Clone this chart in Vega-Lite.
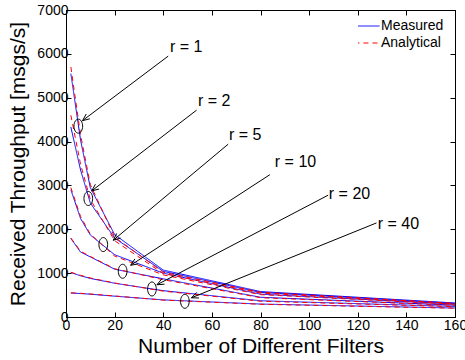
{
  "$schema": "https://vega.github.io/schema/vega-lite/v6.json",
  "width": 389,
  "height": 307,
  "autosize": {"type": "none"},
  "padding": {"left": 66, "top": 10, "right": 10, "bottom": 43},
  "background": "white",
  "config": {
    "font": "Liberation Sans",
    "view": {"stroke": "black", "strokeWidth": 1},
    "axis": {
      "domainColor": "black",
      "tickColor": "black",
      "labelColor": "black",
      "titleColor": "black",
      "labelFont": "Liberation Sans",
      "titleFont": "Liberation Sans",
      "labelFontSize": 14,
      "titleFontSize": 21,
      "titleFontWeight": "normal",
      "grid": false,
      "tickSize": -5,
      "domainWidth": 1,
      "tickWidth": 1,
      "format": "d"
    },
    "legend": {
      "labelFont": "Liberation Sans",
      "labelFontSize": 14,
      "labelColor": "black",
      "orient": "none",
      "legendX": 292,
      "legendY": 7.5,
      "padding": 0,
      "rowPadding": 0,
      "clipHeight": 17,
      "symbolType": "M-1.5,0L1.5,0",
      "symbolSize": 280,
      "symbolStrokeWidth": 1,
      "labelOffset": 5
    }
  },
  "datasets": {
    "curves": [
      {"r": 1, "type": "Measured", "x": 2, "y": 5550},
      {"r": 1, "type": "Measured", "x": 6, "y": 4030},
      {"r": 1, "type": "Measured", "x": 10, "y": 2950},
      {"r": 1, "type": "Measured", "x": 20, "y": 1880},
      {"r": 1, "type": "Measured", "x": 40, "y": 1070},
      {"r": 1, "type": "Measured", "x": 80, "y": 580},
      {"r": 1, "type": "Measured", "x": 160, "y": 320},
      {"r": 2, "type": "Measured", "x": 2, "y": 4330},
      {"r": 2, "type": "Measured", "x": 6, "y": 3350},
      {"r": 2, "type": "Measured", "x": 10, "y": 2600},
      {"r": 2, "type": "Measured", "x": 20, "y": 1800},
      {"r": 2, "type": "Measured", "x": 40, "y": 1040},
      {"r": 2, "type": "Measured", "x": 80, "y": 560},
      {"r": 2, "type": "Measured", "x": 160, "y": 310},
      {"r": 5, "type": "Measured", "x": 2, "y": 2900},
      {"r": 5, "type": "Measured", "x": 6, "y": 2245},
      {"r": 5, "type": "Measured", "x": 10, "y": 1870},
      {"r": 5, "type": "Measured", "x": 20, "y": 1420},
      {"r": 5, "type": "Measured", "x": 40, "y": 1000},
      {"r": 5, "type": "Measured", "x": 80, "y": 520},
      {"r": 5, "type": "Measured", "x": 160, "y": 295},
      {"r": 10, "type": "Measured", "x": 2, "y": 1790},
      {"r": 10, "type": "Measured", "x": 6, "y": 1480},
      {"r": 10, "type": "Measured", "x": 10, "y": 1370},
      {"r": 10, "type": "Measured", "x": 20, "y": 1090},
      {"r": 10, "type": "Measured", "x": 40, "y": 870},
      {"r": 10, "type": "Measured", "x": 80, "y": 450},
      {"r": 10, "type": "Measured", "x": 160, "y": 270},
      {"r": 20, "type": "Measured", "x": 2, "y": 1013},
      {"r": 20, "type": "Measured", "x": 6, "y": 940},
      {"r": 20, "type": "Measured", "x": 10, "y": 880},
      {"r": 20, "type": "Measured", "x": 20, "y": 770},
      {"r": 20, "type": "Measured", "x": 40, "y": 600},
      {"r": 20, "type": "Measured", "x": 80, "y": 370},
      {"r": 20, "type": "Measured", "x": 160, "y": 240},
      {"r": 40, "type": "Measured", "x": 2, "y": 548},
      {"r": 40, "type": "Measured", "x": 6, "y": 535},
      {"r": 40, "type": "Measured", "x": 10, "y": 520},
      {"r": 40, "type": "Measured", "x": 20, "y": 475},
      {"r": 40, "type": "Measured", "x": 40, "y": 390},
      {"r": 40, "type": "Measured", "x": 80, "y": 295},
      {"r": 40, "type": "Measured", "x": 160, "y": 205},
      {"r": 1, "type": "Analytical", "x": 2, "y": 5700},
      {"r": 1, "type": "Analytical", "x": 6, "y": 4150},
      {"r": 1, "type": "Analytical", "x": 10, "y": 3020},
      {"r": 1, "type": "Analytical", "x": 20, "y": 1820},
      {"r": 1, "type": "Analytical", "x": 40, "y": 1020},
      {"r": 1, "type": "Analytical", "x": 80, "y": 565},
      {"r": 1, "type": "Analytical", "x": 160, "y": 310},
      {"r": 2, "type": "Analytical", "x": 2, "y": 4600},
      {"r": 2, "type": "Analytical", "x": 6, "y": 3480},
      {"r": 2, "type": "Analytical", "x": 10, "y": 2680},
      {"r": 2, "type": "Analytical", "x": 20, "y": 1740},
      {"r": 2, "type": "Analytical", "x": 40, "y": 990},
      {"r": 2, "type": "Analytical", "x": 80, "y": 545},
      {"r": 2, "type": "Analytical", "x": 160, "y": 305},
      {"r": 5, "type": "Analytical", "x": 2, "y": 2950},
      {"r": 5, "type": "Analytical", "x": 6, "y": 2290},
      {"r": 5, "type": "Analytical", "x": 10, "y": 1890},
      {"r": 5, "type": "Analytical", "x": 20, "y": 1390},
      {"r": 5, "type": "Analytical", "x": 40, "y": 960},
      {"r": 5, "type": "Analytical", "x": 80, "y": 510},
      {"r": 5, "type": "Analytical", "x": 160, "y": 290},
      {"r": 10, "type": "Analytical", "x": 2, "y": 1800},
      {"r": 10, "type": "Analytical", "x": 6, "y": 1500},
      {"r": 10, "type": "Analytical", "x": 10, "y": 1380},
      {"r": 10, "type": "Analytical", "x": 20, "y": 1100},
      {"r": 10, "type": "Analytical", "x": 40, "y": 850},
      {"r": 10, "type": "Analytical", "x": 80, "y": 440},
      {"r": 10, "type": "Analytical", "x": 160, "y": 265},
      {"r": 20, "type": "Analytical", "x": 2, "y": 1020},
      {"r": 20, "type": "Analytical", "x": 6, "y": 950},
      {"r": 20, "type": "Analytical", "x": 10, "y": 890},
      {"r": 20, "type": "Analytical", "x": 20, "y": 775},
      {"r": 20, "type": "Analytical", "x": 40, "y": 590},
      {"r": 20, "type": "Analytical", "x": 80, "y": 360},
      {"r": 20, "type": "Analytical", "x": 160, "y": 235},
      {"r": 40, "type": "Analytical", "x": 2, "y": 550},
      {"r": 40, "type": "Analytical", "x": 6, "y": 540},
      {"r": 40, "type": "Analytical", "x": 10, "y": 525},
      {"r": 40, "type": "Analytical", "x": 20, "y": 480},
      {"r": 40, "type": "Analytical", "x": 40, "y": 385},
      {"r": 40, "type": "Analytical", "x": 80, "y": 290},
      {"r": 40, "type": "Analytical", "x": 160, "y": 200}
    ],
    "ellipses": [
      {"r": 1, "x": 5.06, "y": 4352},
      {"r": 2, "x": 9.17, "y": 2702},
      {"r": 5, "x": 15.33, "y": 1652},
      {"r": 10, "x": 23.3, "y": 1043},
      {"r": 20, "x": 35.35, "y": 639},
      {"r": 40, "x": 48.9, "y": 358}
    ],
    "arrows": [
      {"r": 1, "part": "shaft", "x": 42.05, "y": 5949, "x2": 6.78, "y2": 4477},
      {"r": 1, "part": "head", "x": 6.78, "y": 4477, "x2": 9.82, "y2": 4519},
      {"r": 1, "part": "head", "x": 6.78, "y": 4477, "x2": 8.34, "y2": 4628},
      {"r": 2, "part": "shaft", "x": 53.72, "y": 4717, "x2": 10.56, "y2": 2875},
      {"r": 2, "part": "head", "x": 10.56, "y": 2875, "x2": 13.6, "y2": 2918},
      {"r": 2, "part": "head", "x": 10.56, "y": 2875, "x2": 12.09, "y2": 3027},
      {"r": 5, "part": "shaft", "x": 66.71, "y": 3941, "x2": 19.44, "y2": 1750},
      {"r": 5, "part": "head", "x": 19.44, "y": 1750, "x2": 22.44, "y2": 1800},
      {"r": 5, "part": "head", "x": 19.44, "y": 1750, "x2": 20.86, "y2": 1905},
      {"r": 10, "part": "shaft", "x": 83.85, "y": 3245, "x2": 26.59, "y2": 1180},
      {"r": 10, "part": "head", "x": 26.59, "y": 1180, "x2": 29.68, "y2": 1209},
      {"r": 10, "part": "head", "x": 26.59, "y": 1180, "x2": 28.34, "y2": 1324},
      {"r": 20, "part": "shaft", "x": 107.81, "y": 2777, "x2": 37.4, "y2": 735},
      {"r": 20, "part": "head", "x": 37.4, "y": 735, "x2": 40.52, "y2": 748},
      {"r": 20, "part": "head", "x": 37.4, "y": 735, "x2": 39.38, "y2": 869},
      {"r": 40, "part": "shaft", "x": 127.7, "y": 2145, "x2": 51.58, "y2": 438},
      {"r": 40, "part": "head", "x": 51.58, "y": 438, "x2": 54.71, "y2": 434},
      {"r": 40, "part": "head", "x": 51.58, "y": 438, "x2": 53.79, "y2": 561}
    ],
    "labels": [
      {"label": "r = 1", "x": 42.75, "y": 6161},
      {"label": "r = 2", "x": 54.25, "y": 4922},
      {"label": "r = 5", "x": 67.0, "y": 4158},
      {"label": "r = 10", "x": 85.9, "y": 3530},
      {"label": "r = 20", "x": 108.1, "y": 2800},
      {"label": "r = 40", "x": 128.2, "y": 2127}
    ]
  },
  "layer": [
    {
      "data": {"name": "curves"},
      "transform": [{"filter": "datum.type === 'Measured'"}],
      "mark": {"type": "line", "strokeWidth": 1, "clip": true},
      "encoding": {
        "x": {
          "field": "x", "type": "quantitative",
          "scale": {"domain": [0, 160], "nice": false, "zero": false},
          "axis": {"orient": "bottom", "values": [0, 20, 40, 60, 80, 100, 120, 140, 160], "title": "Number of Different Filters", "labelPadding": 6, "titlePadding": 3, "labelFlush": false, "labelOverlap": false}
        },
        "y": {
          "field": "y", "type": "quantitative",
          "scale": {"domain": [0, 7000], "nice": false},
          "axis": {"orient": "left", "values": [0, 1000, 2000, 3000, 4000, 5000, 6000, 7000], "title": "Received Throughput [msgs/s]", "labelPadding": 3, "titlePadding": 8, "labelOverlap": false}
        },
        "detail": {"field": "r", "type": "nominal"},
        "color": {
          "field": "type", "type": "nominal",
          "scale": {"domain": ["Measured", "Analytical"], "range": ["#0000ff", "#ff0000"]},
          "legend": {"title": null}
        },
        "strokeDash": {
          "field": "type", "type": "nominal",
          "scale": {"domain": ["Measured", "Analytical"], "range": [[1, 0], [5, 4]]},
          "legend": {"title": null}
        }
      }
    },
    {
      "data": {"name": "curves"},
      "transform": [{"filter": "datum.type === 'Analytical'"}],
      "mark": {"type": "line", "strokeWidth": 1, "clip": true},
      "encoding": {
        "x": {
          "field": "x", "type": "quantitative",
          "scale": {"domain": [0, 160], "nice": false, "zero": false},
          "axis": {"orient": "top", "values": [0, 20, 40, 60, 80, 100, 120, 140, 160], "labels": false, "title": null}
        },
        "y": {
          "field": "y", "type": "quantitative",
          "scale": {"domain": [0, 7000], "nice": false},
          "axis": {"orient": "right", "values": [0, 1000, 2000, 3000, 4000, 5000, 6000, 7000], "labels": false, "title": null}
        },
        "detail": {"field": "r", "type": "nominal"},
        "color": {"field": "type", "type": "nominal", "scale": {"domain": ["Measured", "Analytical"], "range": ["#0000ff", "#ff0000"]}, "legend": {"title": null}},
        "strokeDash": {"field": "type", "type": "nominal", "scale": {"domain": ["Measured", "Analytical"], "range": [[1, 0], [5, 4]]}, "legend": {"title": null}}
      }
    },
    {
      "data": {"name": "ellipses"},
      "mark": {"type": "point", "shape": "M0,-1A0.62,1,0,1,1,0,1A0.62,1,0,1,1,0,-1Z", "size": 196, "filled": false, "stroke": "black", "strokeWidth": 1, "opacity": 1},
      "encoding": {
        "x": {"field": "x", "type": "quantitative", "scale": {"domain": [0, 160], "nice": false, "zero": false}, "axis": null},
        "y": {"field": "y", "type": "quantitative", "scale": {"domain": [0, 7000], "nice": false}, "axis": null}
      }
    },
    {
      "data": {"name": "arrows"},
      "mark": {"type": "rule", "color": "black", "strokeWidth": 1},
      "encoding": {
        "x": {"field": "x", "type": "quantitative", "scale": {"domain": [0, 160], "nice": false, "zero": false}, "axis": null},
        "y": {"field": "y", "type": "quantitative", "scale": {"domain": [0, 7000], "nice": false}, "axis": null},
        "x2": {"field": "x2"},
        "y2": {"field": "y2"}
      }
    },
    {
      "data": {"name": "labels"},
      "mark": {"type": "text", "align": "left", "baseline": "middle", "font": "Liberation Sans", "fontSize": 16, "color": "black"},
      "encoding": {
        "x": {"field": "x", "type": "quantitative", "scale": {"domain": [0, 160], "nice": false, "zero": false}, "axis": null},
        "y": {"field": "y", "type": "quantitative", "scale": {"domain": [0, 7000], "nice": false}, "axis": null},
        "text": {"field": "label"}
      }
    }
  ],
  "resolve": {"axis": {"x": "independent", "y": "independent"}}
}
